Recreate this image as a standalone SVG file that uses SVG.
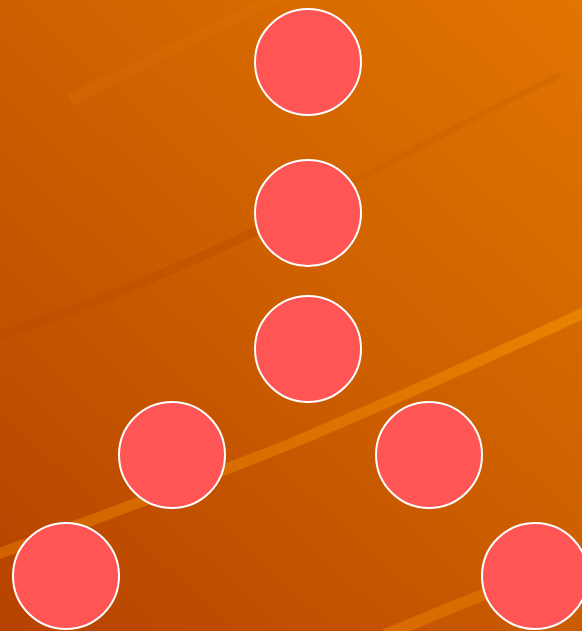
<svg xmlns="http://www.w3.org/2000/svg" width="582" height="631" viewBox="0 0 582 631">
<defs>
<linearGradient id="bg" x1="582" y1="0" x2="0" y2="631" gradientUnits="userSpaceOnUse">
<stop offset="0" stop-color="#E27500"/>
<stop offset="0.5" stop-color="#CC5E00"/>
<stop offset="1" stop-color="#B64200"/>
</linearGradient>
<linearGradient id="bright" x1="0" y1="0" x2="582" y2="0" gradientUnits="userSpaceOnUse">
<stop offset="0" stop-color="#D26200"/>
<stop offset="0.5" stop-color="#DA7000"/>
<stop offset="1" stop-color="#E88200"/>
</linearGradient>
<style>
.node{fill:#FF5555;stroke:#FFFFFF;stroke-width:2}
.streak{fill:none;stroke-linecap:butt}
</style>
</defs>
<rect width="582" height="631" fill="url(#bg)"/>
<g id="background-streaks">
<path class="streak" d="M70,100 Q170,50 280,-5" stroke="#E07A10" stroke-opacity="0.2" stroke-width="12"/>
<path class="streak" d="M-5,338 Q130,292 258,230" stroke="#B84A00" stroke-opacity="0.4" stroke-width="9"/>
<path class="streak" d="M350,183 Q450,130 560,75" stroke="#C85800" stroke-opacity="0.3" stroke-width="6"/>
<path class="streak" d="M-5,555 Q150,500 290,444 Q400,398 590,310" stroke="url(#bright)" stroke-width="11"/>
<path class="streak" d="M385,635 Q440,612 495,590" stroke="#D86C00" stroke-width="12"/>
</g>
<g id="connectors"></g>
<g id="n1"><circle class="node" cx="308" cy="62" r="53"/></g>
<g id="n2"><circle class="node" cx="308" cy="213" r="53"/></g>
<g id="n3"><circle class="node" cx="308" cy="349" r="53"/></g>
<g id="n4"><circle class="node" cx="172" cy="455" r="53"/></g>
<g id="n5"><circle class="node" cx="429" cy="455" r="53"/></g>
<g id="n6"><circle class="node" cx="66" cy="576" r="53"/></g>
<g id="n7"><circle class="node" cx="535" cy="576" r="53"/></g>
</svg>
